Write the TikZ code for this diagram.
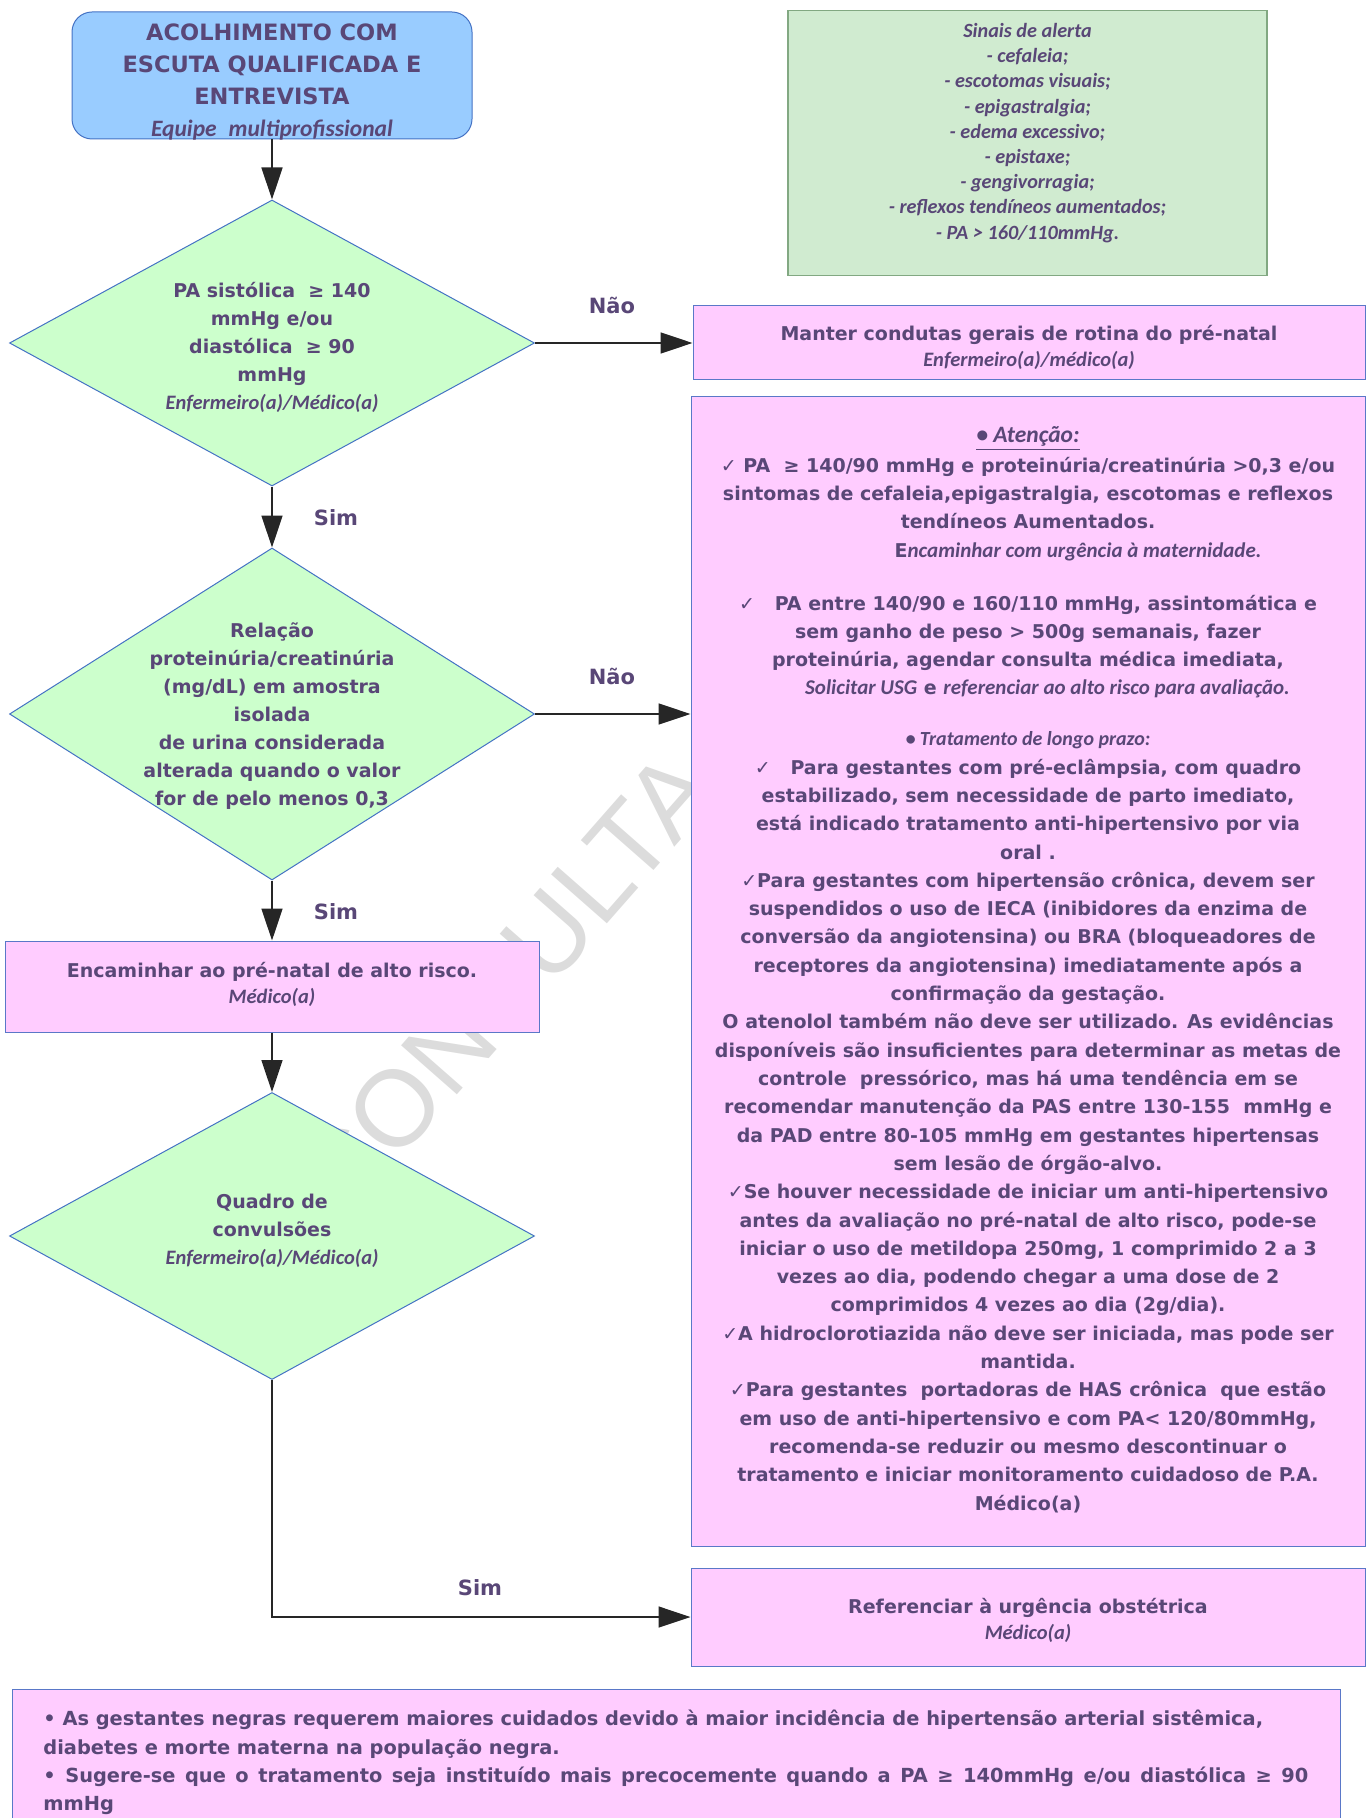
\documentclass[tikz,border=0pt]{standalone}
\usepackage{fontspec}
\setmainfont{DejaVu Sans}
\newfontfamily\calfont{Carlito}
\newfontfamily\wmfont{Liberation Sans}
\usetikzlibrary{shapes.geometric,arrows.meta}
\definecolor{txt}{RGB}{89,71,119}
\definecolor{bluefill}{RGB}{153,204,255}
\definecolor{blueline}{RGB}{68,114,196}
\definecolor{greenfill}{RGB}{204,255,204}
\definecolor{pinkfill}{RGB}{255,204,255}
\definecolor{pinkline}{RGB}{90,120,200}
\definecolor{sagefill}{RGB}{208,235,208}
\definecolor{sageline}{RGB}{130,168,130}
\definecolor{wm}{RGB}{220,220,220}
\newcommand{\ital}{\calfont\bfseries\itshape}
\newcommand{\chk}{{\mdseries ✓}}
\tikzset{
  dia/.style={diamond, draw=blueline, fill=greenfill, line width=0.5pt, inner sep=0pt,
              minimum width=262.5pt},
  pinkbox/.style={rectangle, draw=pinkline, fill=pinkfill, line width=0.5pt, inner sep=0pt,
              text=txt, align=center, font=\bfseries\fontsize{9.5pt}{13pt}\selectfont},
  arr/.style={-{Triangle[length=16pt,width=10.5pt]}, line width=0.7pt, draw=black!85},
  lbl/.style={text=txt, font=\bfseries\fontsize{10.5pt}{12pt}\selectfont, inner sep=0pt},
  tx/.style={text=txt, align=center, inner sep=0pt, font=\bfseries\fontsize{9.5pt}{14pt}\selectfont},
}
\begin{document}
\begin{tikzpicture}[x=0.5pt,y=-0.5pt]
\useasboundingbox (0,0) rectangle (1371,1818);
% watermark
\node[font=\wmfont\fontsize{54pt}{60pt}\selectfont, text=wm, rotate=48.7, inner sep=0pt] (wmark) at (505,984) {CONSULTA};

% title
\node[rectangle, rounded corners=10pt, draw=blueline, fill=bluefill, line width=0.5pt,
      minimum width=200pt, minimum height=63.5pt, inner sep=0pt] (title) at (272,75.5) {};
\node[tx, font=\bfseries\fontsize{11.25pt}{16pt}\selectfont] (titletx) at (272,82)
  {ACOLHIMENTO COM\\ESCUTA QUALIFICADA E\\ENTREVISTA\\{\ital\fontsize{11.75pt}{16pt}\selectfont Equipe\hspace{6pt}multiprofissional}};

% sinais de alerta
\node[rectangle, draw=sageline, fill=sagefill, line width=0.6pt, minimum width=239.5pt,
      minimum height=132.5pt, inner sep=0pt] (sinais) at (1027.5,143) {};
\node[tx, anchor=north, font=\ital\fontsize{10.1pt}{12.6pt}\selectfont] (sinaistx) at (1027.5,23)
  {Sinais de alerta\\- cefaleia;\\- escotomas visuais;\\- epigastralgia;\\- edema excessivo;\\- epistaxe;\\- gengivorragia;\\- reflexos tendíneos aumentados;\\- PA > 160/110mmHg.};

% diamond 1
\node[dia, minimum height=143pt] (d1) at (272,343) {};
\node[tx] (d1tx) at (272,347)
  {PA sistólica\ \ ≥ 140\\mmHg e/ou\\diastólica\ \ ≥ 90\\mmHg\\{\ital\fontsize{10.25pt}{14pt}\selectfont Enfermeiro(a)/Médico(a)}};

% manter
\node[rectangle, draw=pinkline, fill=pinkfill, line width=0.5pt, inner sep=0pt,
      minimum width=336pt, minimum height=37pt] (manter) at (1029,343) {};
\node[tx, font=\bfseries\fontsize{9.5pt}{13pt}\selectfont] (mantertx) at (1029,347)
  {Manter condutas gerais de rotina do pré-natal\\{\ital\fontsize{10.25pt}{13pt}\selectfont Enfermeiro(a)/médico(a)}};

% big box
\node[rectangle, draw=pinkline, fill=pinkfill, line width=0.5pt, inner sep=0pt,
      minimum width=337pt, minimum height=574.5pt] (big) at (1028,971.5) {};
\node[tx, anchor=north, font=\bfseries\fontsize{9.5pt}{14.15pt}\selectfont] (bigtx) at (1028,426)
  {{\ital\fontsize{11.75pt}{14pt}\selectfont\underline{• Atenção:}}\\[0.8pt]
   \chk{} PA\ \ ≥ 140/90 mmHg e proteinúria/creatinúria >0,3 e/ou\\
   sintomas de cefaleia,epigastralgia, escotomas e reflexos\\
   tendíneos Aumentados.\\
   \hspace*{50pt}E{\ital\fontsize{10.5pt}{14pt}\selectfont ncaminhar com urgência à maternidade.}\\[12.3pt]
   \chk\ \ \ PA entre 140/90 e 160/110 mmHg, assintomática e\\
   sem ganho de peso > 500g semanais, fazer\\
   proteinúria, agendar consulta médica imediata,\\
   \hspace*{19.5pt}{\ital\fontsize{10.5pt}{14pt}\selectfont Solicitar USG} e {\ital\fontsize{10.5pt}{14pt}\selectfont referenciar ao alto risco para avaliação.}\\[11.3pt]
   {\ital\fontsize{10pt}{14pt}\selectfont • Tratamento de longo prazo:}\\
   \chk\ \ \ Para gestantes com pré-eclâmpsia, com quadro\\
   estabilizado, sem necessidade de parto imediato,\\
   está indicado tratamento anti-hipertensivo por via\\
   oral .\\
   \chk{}Para gestantes com hipertensão crônica, devem ser\\
   suspendidos o uso de IECA (inibidores da enzima de\\
   conversão da angiotensina) ou BRA (bloqueadores de\\
   receptores da angiotensina) imediatamente após a\\
   confirmação da gestação.\\
   O atenolol também não deve ser utilizado. As evidências\\
   disponíveis são insuficientes para determinar as metas de\\
   controle\ \ pressórico, mas há uma tendência em se\\
   recomendar manutenção da PAS entre 130-155\ \ mmHg e\\
   da PAD entre 80-105 mmHg em gestantes hipertensas\\
   sem lesão de órgão-alvo.\\
   \chk{}Se houver necessidade de iniciar um anti-hipertensivo\\
   antes da avaliação no pré-natal de alto risco, pode-se\\
   iniciar o uso de metildopa 250mg, 1 comprimido 2 a 3\\
   vezes ao dia, podendo chegar a uma dose de 2\\
   comprimidos 4 vezes ao dia (2g/dia).\\
   \chk{}A hidroclorotiazida não deve ser iniciada, mas pode ser\\
   mantida.\\
   \chk{}Para gestantes\ \ portadoras de HAS crônica\ \ que estão\\
   em uso de anti-hipertensivo e com PA< 120/80mmHg,\\
   recomenda-se reduzir ou mesmo descontinuar o\\
   tratamento e iniciar monitoramento cuidadoso de P.A.\\
   Médico(a)};

% diamond 2
\node[dia, minimum height=166pt] (d2) at (272,714) {};
\node[tx] (d2tx) at (272,716)
  {Relação\\proteinúria/creatinúria\\(mg/dL) em amostra\\isolada\\de urina considerada\\alterada quando o valor\\for de pelo menos 0,3};

% encaminhar
\node[pinkbox, minimum width=267pt, minimum height=45.5pt] (enc) at (272,986.5) {};
\node[tx, font=\bfseries\fontsize{9.5pt}{13pt}\selectfont] (enctx) at (272,984)
  {Encaminhar ao pré-natal de alto risco.\\{\ital\fontsize{10.25pt}{13pt}\selectfont Médico(a)}};

% diamond 3
\node[dia, minimum height=143.5pt] (d3) at (272,1236) {};
\node[tx] (d3tx) at (272,1231)
  {Quadro de\\convulsões\\{\ital\fontsize{10.25pt}{14pt}\selectfont Enfermeiro(a)/Médico(a)}};

% referenciar
\node[pinkbox, minimum width=337pt, minimum height=49pt] (ref) at (1028,1617) {};
\node[tx, font=\bfseries\fontsize{9.5pt}{13pt}\selectfont] (reftx) at (1028,1620)
  {Referenciar à urgência obstétrica\\{\ital\fontsize{10.25pt}{13pt}\selectfont Médico(a)}};

% bottom note box
\fill[pinkfill] (12,1689) rectangle (1340,1818);
\draw[pinkline, line width=0.5pt] (12,1818) -- (12,1689) -- (1340,1689) -- (1340,1818);
\node[anchor=north west, text=txt, align=left, inner sep=0pt,
      font=\bfseries\fontsize{9.7pt}{14.1pt}\selectfont] (nota) at (43,1710)
  {• As gestantes negras requerem maiores cuidados devido à maior incidência de hipertensão arterial sistêmica,\\
   diabetes e morte materna na população negra.\\
   \makebox[632.5pt][s]{• Sugere-se que o tratamento seja instituído mais precocemente quando a PA ≥ 140mmHg e/ou diastólica ≥ 90}\\
   mmHg};

% connectors
\draw[arr] (title.south) -- (d1.north);
\draw[arr] (d1.east) -- (manter.west);
\draw[arr] (d1.south) -- (d2.north);
\draw[arr] (d2.east) -- (d2.east -| big.west);
\draw[arr] (d2.south) -- (enc.north);
\draw[arr] (enc.south) -- (d3.north);
\draw[arr] (d3.south) |- (ref.west);

% labels
\node[lbl] (nao1) at (612,305) {Não};
\node[lbl] (nao2) at (612,676) {Não};
\node[lbl] (sim1) at (336,518) {Sim};
\node[lbl] (sim2) at (336,912) {Sim};
\node[lbl] (sim3) at (480,1588) {Sim};
\end{tikzpicture}
\end{document}
